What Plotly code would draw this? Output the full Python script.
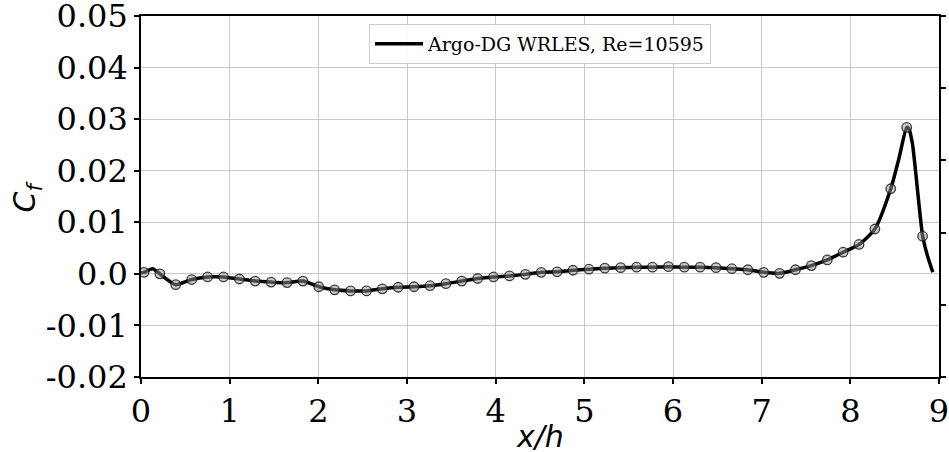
import plotly.graph_objects as go

# ---------------- data ----------------
x_markers = [0.034, 0.213, 0.392, 0.572, 0.751, 0.930, 1.109, 1.288, 1.468, 1.647,
             1.826, 2.005, 2.184, 2.364, 2.543, 2.722, 2.901, 3.080, 3.260, 3.439,
             3.618, 3.797, 3.976, 4.156, 4.335, 4.514, 4.693, 4.872, 5.052, 5.231,
             5.410, 5.589, 5.768, 5.948, 6.127, 6.306, 6.485, 6.664, 6.844, 7.023,
             7.202, 7.381, 7.560, 7.740, 7.919, 8.098, 8.277, 8.456, 8.636, 8.815]
cf_markers = [0.0003, 0.0000, -0.0021, -0.0011, -0.0006, -0.0006, -0.0010, -0.0014, -0.0016, -0.0017,
              -0.0014, -0.0025, -0.0031, -0.0033, -0.0033, -0.0029, -0.0026, -0.0025, -0.0023, -0.0019,
              -0.0014, -0.0009, -0.0006, -0.0004, -0.0001, 0.0003, 0.0004, 0.0007, 0.0009, 0.0011,
              0.0012, 0.0013, 0.0013, 0.0014, 0.0013, 0.0013, 0.0012, 0.0010, 0.0008, 0.0003,
              0.0001, 0.0008, 0.0016, 0.0027, 0.0042, 0.0057, 0.0087, 0.0165, 0.0284, 0.0073]

x_line = [0.0, 0.034, 0.13, 0.213, 0.392, 0.572, 0.751, 0.930, 1.109, 1.288, 1.468, 1.647,
          1.826, 2.005, 2.184, 2.364, 2.543, 2.722, 2.901, 3.080, 3.260, 3.439,
          3.618, 3.797, 3.976, 4.156, 4.335, 4.514, 4.693, 4.872, 5.052, 5.231,
          5.410, 5.589, 5.768, 5.948, 6.127, 6.306, 6.485, 6.664, 6.844, 7.023,
          7.202, 7.381, 7.560, 7.740, 7.919, 8.098, 8.277, 8.456, 8.55, 8.636,
          8.66, 8.70, 8.815, 8.875, 8.93]
cf_line = [0.0002, 0.0003, 0.0010, 0.0000, -0.0021, -0.0011, -0.0006, -0.0006, -0.0010, -0.0014, -0.0016, -0.0017,
           -0.0014, -0.0025, -0.0031, -0.0033, -0.0033, -0.0029, -0.0026, -0.0025, -0.0023, -0.0019,
           -0.0014, -0.0009, -0.0006, -0.0004, -0.0001, 0.0003, 0.0004, 0.0007, 0.0009, 0.0011,
           0.0012, 0.0013, 0.0013, 0.0014, 0.0013, 0.0013, 0.0012, 0.0010, 0.0008, 0.0003,
           0.0001, 0.0008, 0.0016, 0.0027, 0.0042, 0.0057, 0.0087, 0.0165, 0.0225, 0.0284,
           0.0281, 0.0253, 0.0074, 0.0032, 0.0003]

x_ticks = [0, 1, 2, 3, 4, 5, 6, 7, 8, 9]
y_ticks = [0.05, 0.04, 0.03, 0.02, 0.01, 0.0, -0.01, -0.02]
y_tick_text = ["0.05", "0.04", "0.03", "0.02", "0.01", "0.0", "-0.01", "-0.02"]
right_ticks = [0, 1, 2, 3, 4, 5]

series_name = "Argo-DG WRLES, Re=10595"

# ---------------- figure ----------------
fig = go.Figure()
fig.add_trace(go.Scatter(
    x=x_line, y=cf_line, mode="lines", name=series_name,
    line=dict(color="black", width=3.5, shape="spline", smoothing=0.6),
))
fig.add_trace(go.Scatter(
    x=x_markers, y=cf_markers, mode="markers", showlegend=False,
    marker=dict(symbol="circle", size=9.5, color="rgba(150,150,150,0.5)",
                line=dict(color="rgba(30,30,30,0.85)", width=1.3)),
))
fig.add_trace(go.Scatter(x=[None], y=[None], yaxis="y2", showlegend=False, mode="markers"))

serif = "DejaVu Serif"
fig.update_layout(
    width=949, height=452,
    margin=dict(l=141, r=10, t=16, b=75, autoexpand=False),
    paper_bgcolor="white", plot_bgcolor="white",
    showlegend=True,
    legend=dict(x=0.5, xanchor="center", y=0.978, yanchor="top", itemwidth=48,
                bgcolor="rgba(255,255,255,0.85)", bordercolor="#cccccc", borderwidth=1,
                font=dict(family=serif, size=19, color="black")),
    xaxis=dict(range=[-0.00001, 9.00001], tickvals=x_ticks, ticktext=[str(v) for v in x_ticks],
               automargin=False, ticklabeloverflow="allow",
               showgrid=True, gridcolor="#c8c8c8", gridwidth=1.2, zeroline=False,
               showline=True, linecolor="black", linewidth=1.6, mirror=True,
               ticks="outside", ticklen=5, tickwidth=1.5, tickcolor="black",
               tickfont=dict(family=serif, size=32, color="black")),
    yaxis=dict(range=[-0.0200001, 0.0500001], tickvals=y_ticks, ticktext=y_tick_text,
               automargin=False, ticklabeloverflow="allow",
               showgrid=True, gridcolor="#c8c8c8", gridwidth=1.2, zeroline=False,
               showline=True, linecolor="black", linewidth=1.6,
               ticks="outside", ticklen=5, tickwidth=1.5, tickcolor="black",
               tickfont=dict(family=serif, size=32, color="black")),
    yaxis2=dict(range=[0, 5], tickvals=right_ticks, overlaying="y", side="right",
                automargin=False,
                showgrid=False, zeroline=False, showticklabels=False,
                showline=True, linecolor="black", linewidth=1.6,
                ticks="outside", ticklen=5, tickwidth=1.5, tickcolor="black"),
    annotations=[
        dict(text="<i>C<sub>f</sub></i>", xref="paper", yref="paper", x=-0.143, y=0.5,
             xanchor="center", yanchor="middle", textangle=-90, showarrow=False,
             font=dict(family="DejaVu Sans", size=30, color="black")),
        dict(text="<i>x/h</i>", xref="paper", yref="paper", x=0.5, y=-0.166,
             xanchor="center", yanchor="middle", showarrow=False,
             font=dict(family="DejaVu Sans", size=30, color="black")),
    ],
)

fig.write_html("out.html", config={"displayModeBar": False},
               post_script="document.body.style.margin='0';")
